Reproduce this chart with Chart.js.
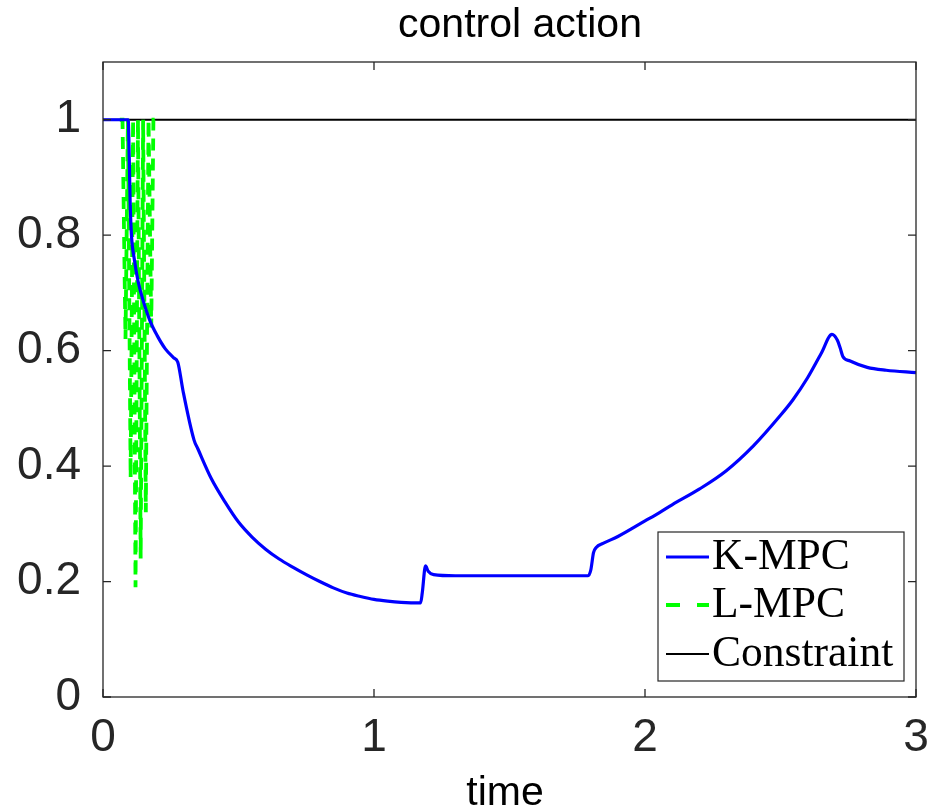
<!DOCTYPE html>
<html><head><meta charset="utf-8">
<script src="https://cdn.jsdelivr.net/npm/chart.js@4"></script>
<style>html,body{margin:0;padding:0;background:#fff}</style>
</head><body>
<canvas id="c" width="931" height="811"></canvas>
<script>
// ---- data ----
const titleText = 'control action';
const xLabel = 'time';
const seriesLabels = ['K-MPC', 'L-MPC', 'Constraint'];
const xTicks = [0, 1, 2, 3];
const yTicks = [0, 0.2, 0.4, 0.6, 0.8, 1];

const kTime = [0, 0.093, 0.097, 0.100, 0.105, 0.115, 0.129, 0.148, 0.173, 0.200, 0.230, 0.260, 0.276,
  0.295, 0.336, 0.350, 0.400, 0.450, 0.500, 0.550, 0.600, 0.650, 0.700, 0.750, 0.800, 0.850, 0.900, 0.950,
  1.000, 1.050, 1.100, 1.172, 1.178, 1.190, 1.200, 1.220, 1.300, 1.500, 1.790, 1.800, 1.810, 1.820, 1.845,
  1.900, 2.000, 2.055, 2.100, 2.200, 2.300, 2.400, 2.500, 2.546, 2.600, 2.650, 2.690, 2.710, 2.720, 2.730,
  2.757, 2.820, 2.890, 3.000];
const kValue = [1, 1, 0.93, 0.86, 0.80, 0.76, 0.721, 0.687, 0.652, 0.626, 0.603, 0.588, 0.580,
  0.531, 0.445, 0.430, 0.378, 0.338, 0.303, 0.277, 0.256, 0.239, 0.225, 0.212, 0.200, 0.189, 0.180, 0.174,
  0.169, 0.166, 0.164, 0.163, 0.180, 0.227, 0.218, 0.212, 0.210, 0.210, 0.210, 0.220, 0.250, 0.259, 0.266,
  0.278, 0.305, 0.320, 0.333, 0.360, 0.392, 0.435, 0.488, 0.515, 0.553, 0.595, 0.628, 0.618, 0.605, 0.590,
  0.582, 0.571, 0.566, 0.562];

const lTime = [0.062, 0.072, 0.083, 0.092, 0.102, 0.111, 0.120, 0.129, 0.139, 0.148, 0.158, 0.168, 0.178, 0.186, 0.192];
const lValue = [1, 1, 0.62, 1, 0.38, 1, 0.19, 1, 0.24, 1, 0.32, 1, 0.64, 1, 1];

const cTime = [0, 3];
const cValue = [1, 1];

function pts(t, v) { return t.map((x, i) => ({ x: x, y: v[i] })); }

const AX = '#262626';
const SANS = '"Liberation Sans", Arial, Helvetica, sans-serif';
const SERIF = '"Liberation Serif", "Times New Roman", serif';

const decor = {
  id: 'decor',
  afterDatasetsDraw(chart) {
    const { ctx, chartArea: a, scales: { x, y } } = chart;
    ctx.save();
    ctx.strokeStyle = AX; ctx.lineWidth = 1.3; ctx.setLineDash([]);
    ctx.strokeRect(a.left, a.top, a.right - a.left, a.bottom - a.top);
    const L = 8;
    ctx.beginPath();
    xTicks.forEach(v => {
      const p = x.getPixelForValue(v);
      ctx.moveTo(p, a.bottom); ctx.lineTo(p, a.bottom - L);
      ctx.moveTo(p, a.top); ctx.lineTo(p, a.top + L);
    });
    yTicks.forEach(v => {
      const p = y.getPixelForValue(v);
      ctx.moveTo(a.left, p); ctx.lineTo(a.left + L, p);
      ctx.moveTo(a.right, p); ctx.lineTo(a.right - L, p);
    });
    ctx.stroke();
    ctx.fillStyle = '#000';
    ctx.font = '41px ' + SANS;
    ctx.textAlign = 'center'; ctx.textBaseline = 'middle';
    ctx.fillText(titleText, 520, 26);
    ctx.fillText(xLabel, 505, 794);
    // legend
    const bx = a.right - 258, by = a.bottom - 165, bw = 246, bh = 149;
    ctx.fillStyle = '#fff';
    ctx.fillRect(bx, by, bw, bh);
    ctx.strokeStyle = AX; ctx.lineWidth = 1.2;
    ctx.strokeRect(bx, by, bw, bh);
    const ds = chart.data.datasets;
    const rows = [by + 25, by + 73, by + 122];
    ds.forEach((d, i) => {
      const ry = rows[i];
      ctx.beginPath();
      ctx.strokeStyle = d.borderColor;
      ctx.lineWidth = d.borderWidth;
      ctx.setLineDash(i === 1 ? [14, 17] : []);
      ctx.moveTo(bx + 8, ry); ctx.lineTo(bx + 51, ry);
      ctx.stroke();
      ctx.setLineDash([]);
      ctx.fillStyle = '#000';
      ctx.font = '43.5px ' + SERIF;
      ctx.textAlign = 'left'; ctx.textBaseline = 'middle';
      ctx.fillText(d.label, bx + 54, ry + 1);
    });
    ctx.restore();
  }
};

new Chart(document.getElementById('c'), {
  type: 'line',
  data: {
    datasets: [
      { label: seriesLabels[0], data: pts(kTime, kValue), borderColor: '#0000ff', borderWidth: 3.2, pointRadius: 0, cubicInterpolationMode: 'monotone' },
      { label: seriesLabels[1], data: pts(lTime, lValue), borderColor: '#00ff00', borderWidth: 3.8, borderDash: [12, 8], pointRadius: 0, tension: 0 },
      { label: seriesLabels[2], data: pts(cTime, cValue), borderColor: '#000000', borderWidth: 2.2, pointRadius: 0, tension: 0 }
    ]
  },
  options: {
    responsive: false,
    animation: false,
    devicePixelRatio: 1,
    layout: { padding: { top: 62, right: 15, left: 0, bottom: 0 } },
    plugins: { legend: { display: false }, tooltip: { enabled: false }, title: { display: false } },
    scales: {
      x: {
        type: 'linear', min: 0, max: 3,
        grid: { display: false }, border: { display: false },
        afterBuildTicks: s => { s.ticks = xTicks.map(v => ({ value: v })); },
        afterFit: s => { s.height = 114; s.paddingLeft = 0; s.paddingRight = 0; },
        ticks: { font: { family: SANS, size: 46 }, color: AX, padding: 6, maxRotation: 0, callback: v => String(v) }
      },
      y: {
        type: 'linear', min: 0, max: 1.1,
        grid: { display: false }, border: { display: false },
        afterBuildTicks: s => { s.ticks = yTicks.map(v => ({ value: v })); },
        afterFit: s => { s.width = 103; s.paddingTop = 0; s.paddingBottom = 0; },
        ticks: { font: { family: SANS, size: 46 }, color: AX, padding: 14, callback: v => String(Math.round(v * 10) / 10) }
      }
    }
  },
  plugins: [decor]
});
</script>
</body></html>
